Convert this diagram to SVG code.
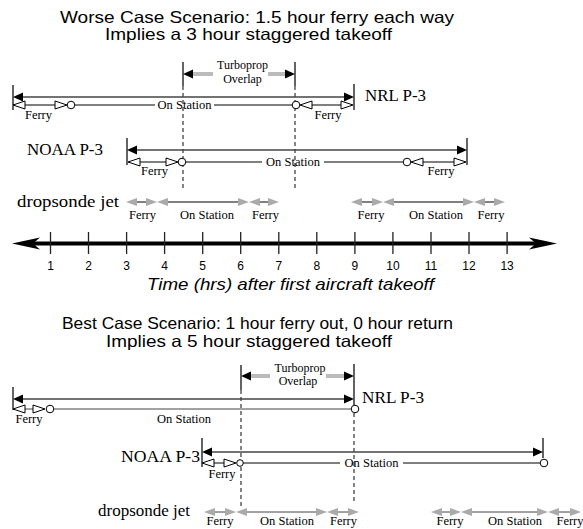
<svg xmlns="http://www.w3.org/2000/svg" xmlns:xlink="http://www.w3.org/1999/xlink" width="583" height="529" viewBox="0 0 583 529">
<style>
.title{font-family:"Liberation Sans",Arial,sans-serif;font-size:16.5px;fill:#000}
.axt{font-family:"Liberation Sans",Arial,sans-serif;font-size:17px;font-style:italic;fill:#000}
.tick{font-family:"Liberation Sans",Arial,sans-serif;font-size:12px;fill:#000;text-anchor:middle}
.big{font-family:"Liberation Serif","Times New Roman",serif;font-size:17px;fill:#000}
.sm{font-family:"Liberation Serif","Times New Roman",serif;font-size:12.5px;fill:#000;text-anchor:middle}
.tp{font-family:"Liberation Serif","Times New Roman",serif;font-size:12px;fill:#000;text-anchor:middle}
.top{stroke:#444;stroke-width:1.4;fill:none}
.bar{stroke:#222;stroke-width:1.4;fill:none}
.ln{stroke:#000;stroke-width:1;fill:none}
.lg{stroke:#444;stroke-width:1;fill:none}
.dash{stroke:#333;stroke-width:1.2;stroke-dasharray:4,3;fill:none}
.gbar{stroke:#bbb;stroke-width:4;fill:none}
</style>
<defs>
<polygon id="openL" points="0,0 12,-4 12,4" fill="#fff" stroke="#000" stroke-width="1"/>
<polygon id="openR" points="0,0 -12,-4 -12,4" fill="#fff" stroke="#000" stroke-width="1"/>
<polygon id="blkL" points="0,0 10,-4.5 10,4.5" fill="#000"/>
<polygon id="blkR" points="0,0 -10,-4.5 -10,4.5" fill="#000"/>
<polygon id="grayL" points="0,0 11,-4 11,4" fill="#aaa"/>
<polygon id="grayR" points="0,0 -11,-4 -11,4" fill="#aaa"/>
<circle id="circ" r="3.8" fill="#fff" stroke="#000" stroke-width="1"/>
</defs>

<g id="titles">
<text class="title" x="60" y="23" textLength="394" lengthAdjust="spacingAndGlyphs">Worse Case Scenario: 1.5 hour ferry each way</text>
<text class="title" x="105" y="40" textLength="287" lengthAdjust="spacingAndGlyphs">Implies a 3 hour staggered takeoff</text>
<text class="title" x="62" y="329" textLength="391" lengthAdjust="spacingAndGlyphs">Best Case Scenario: 1 hour ferry out, 0 hour return</text>
<text class="title" x="106" y="347" textLength="286" lengthAdjust="spacingAndGlyphs">Implies a 5 hour staggered takeoff</text>
</g>

<g id="axis">
<line x1="30" y1="243.5" x2="540" y2="243.5" stroke="#000" stroke-width="4"/>
<path d="M12,243.5 L40,237.5 L33,243.5 L40,249.5 Z" fill="#000"/>
<path d="M557,243.5 L529,237.5 L536,243.5 L529,249.5 Z" fill="#000"/>
<g stroke="#222" stroke-width="1.3">
<line x1="50.5" y1="232" x2="50.5" y2="254"/>
<line x1="88.5" y1="232" x2="88.5" y2="254"/>
<line x1="126.6" y1="232" x2="126.6" y2="254"/>
<line x1="164.6" y1="232" x2="164.6" y2="254"/>
<line x1="202.7" y1="232" x2="202.7" y2="254"/>
<line x1="240.7" y1="232" x2="240.7" y2="254"/>
<line x1="278.8" y1="232" x2="278.8" y2="254"/>
<line x1="316.8" y1="232" x2="316.8" y2="254"/>
<line x1="354.9" y1="232" x2="354.9" y2="254"/>
<line x1="392.9" y1="232" x2="392.9" y2="254"/>
<line x1="431" y1="232" x2="431" y2="254"/>
<line x1="469" y1="232" x2="469" y2="254"/>
<line x1="507.1" y1="232" x2="507.1" y2="254"/>
</g>
<text class="tick" x="50.5" y="270">1</text>
<text class="tick" x="88.5" y="270">2</text>
<text class="tick" x="126.6" y="270">3</text>
<text class="tick" x="164.6" y="270">4</text>
<text class="tick" x="202.7" y="270">5</text>
<text class="tick" x="240.7" y="270">6</text>
<text class="tick" x="278.8" y="270">7</text>
<text class="tick" x="316.8" y="270">8</text>
<text class="tick" x="354.9" y="270">9</text>
<text class="tick" x="392.9" y="270">10</text>
<text class="tick" x="431" y="270">11</text>
<text class="tick" x="469" y="270">12</text>
<text class="tick" x="507.1" y="270">13</text>
<text class="axt" x="147" y="290" textLength="287" lengthAdjust="spacingAndGlyphs">Time (hrs) after first aircraft takeoff</text>
</g>

<!-- Worse case -->
<g id="w-overlap">
<line class="bar" x1="183" y1="62" x2="183" y2="86"/>
<line class="bar" x1="295" y1="62" x2="295" y2="86"/>
<line class="gbar" x1="192" y1="74" x2="213" y2="74"/>
<line class="gbar" x1="268" y1="74" x2="286" y2="74"/>
<use href="#blkL" x="183" y="74"/>
<use href="#blkR" x="295" y="74"/>
<text class="tp" x="242.5" y="69">Turboprop</text>
<text class="tp" x="242.5" y="83">Overlap</text>
</g>

<g id="connectors">
<line class="dash" x1="183" y1="86" x2="183" y2="190"/>
<line class="dash" x1="295" y1="86" x2="295" y2="190"/>
<line class="dash" x1="241" y1="390" x2="241" y2="508"/>
<line class="dash" x1="354" y1="413" x2="354" y2="504"/>
</g>

<g id="w-nrl">
<line class="bar" x1="13" y1="85" x2="13" y2="110"/>
<line class="bar" x1="354" y1="84" x2="354" y2="110"/>
<line class="top" x1="20" y1="97" x2="347" y2="97"/>
<use href="#blkL" x="13" y="97"/>
<use href="#blkR" x="354" y="97"/>
<line class="ln" x1="25" y1="105" x2="55" y2="105"/>
<line class="ln" x1="75" y1="105" x2="155" y2="105"/>
<line class="ln" x1="214" y1="105" x2="292" y2="105"/>
<line class="ln" x1="312" y1="105" x2="341" y2="105"/>
<use href="#openL" x="13" y="105"/>
<use href="#openR" x="67" y="105"/>
<use href="#circ" x="71" y="105"/>
<use href="#circ" x="296" y="105"/>
<use href="#openL" x="300" y="105"/>
<use href="#openR" x="353" y="105"/>
<text class="sm" x="184.5" y="109">On Station</text>
<text class="sm" x="38.5" y="119">Ferry</text>
<text class="sm" x="328" y="119">Ferry</text>
<text class="big" x="365" y="101" textLength="61" lengthAdjust="spacingAndGlyphs">NRL P-3</text>
</g>

<g id="w-noaa">
<line class="bar" x1="127" y1="138" x2="127" y2="165"/>
<line class="bar" x1="467" y1="138" x2="467" y2="165"/>
<line class="top" x1="134" y1="150" x2="460" y2="150"/>
<use href="#blkL" x="127" y="150"/>
<use href="#blkR" x="467" y="150"/>
<line class="ln" x1="139" y1="162" x2="166" y2="162"/>
<line class="ln" x1="186" y1="162" x2="262" y2="162"/>
<line class="ln" x1="324" y1="162" x2="403" y2="162"/>
<line class="ln" x1="423" y1="162" x2="455" y2="162"/>
<use href="#openL" x="128" y="162"/>
<use href="#openR" x="178" y="162"/>
<use href="#circ" x="182" y="162"/>
<use href="#circ" x="407" y="162"/>
<use href="#openL" x="411" y="162"/>
<use href="#openR" x="466" y="162"/>
<text class="sm" x="293" y="166">On Station</text>
<text class="sm" x="154.5" y="175">Ferry</text>
<text class="sm" x="441" y="175">Ferry</text>
<text class="big" x="27" y="155" textLength="76" lengthAdjust="spacingAndGlyphs">NOAA P-3</text>
</g>

<g id="w-jet">
<text class="big" x="17" y="207" textLength="102" lengthAdjust="spacingAndGlyphs">dropsonde jet</text>
<line class="ln" x1="137" y1="202" x2="147" y2="202"/>
<line class="ln" x1="167" y1="202" x2="239" y2="202"/>
<line class="ln" x1="259" y1="202" x2="268" y2="202"/>
<use href="#grayL" x="126" y="202"/>
<use href="#grayR" x="157" y="202"/>
<use href="#grayL" x="157" y="202"/>
<use href="#grayR" x="249" y="202"/>
<use href="#grayL" x="249" y="202"/>
<use href="#grayR" x="279" y="202"/>
<text class="sm" x="142.5" y="219">Ferry</text>
<text class="sm" x="207" y="219">On Station</text>
<text class="sm" x="265.5" y="219">Ferry</text>
<line class="ln" x1="362" y1="202" x2="373" y2="202"/>
<line class="ln" x1="393" y1="202" x2="464" y2="202"/>
<line class="ln" x1="484" y1="202" x2="494" y2="202"/>
<use href="#grayL" x="351" y="202"/>
<use href="#grayR" x="383" y="202"/>
<use href="#grayL" x="383" y="202"/>
<use href="#grayR" x="474" y="202"/>
<use href="#grayL" x="474" y="202"/>
<use href="#grayR" x="505" y="202"/>
<text class="sm" x="371" y="219">Ferry</text>
<text class="sm" x="436" y="219">On Station</text>
<text class="sm" x="491" y="219">Ferry</text>
</g>

<!-- Best case -->
<g id="b-overlap">
<line class="bar" x1="241" y1="365" x2="241" y2="390"/>
<line class="bar" x1="354" y1="364" x2="354" y2="405"/>
<line class="gbar" x1="250" y1="376" x2="270" y2="376"/>
<line class="gbar" x1="326" y1="376" x2="345" y2="376"/>
<use href="#blkL" x="241" y="376"/>
<use href="#blkR" x="354" y="376"/>
<text class="tp" x="300" y="372">Turboprop</text>
<text class="tp" x="298" y="385">Overlap</text>
</g>

<g id="b-nrl">
<line class="bar" x1="13" y1="387" x2="13" y2="410"/>
<line class="top" x1="20" y1="399" x2="347" y2="399"/>
<use href="#blkL" x="13" y="399"/>
<use href="#blkR" x="354" y="399"/>
<line class="lg" x1="25" y1="409" x2="33" y2="409"/>
<line class="lg" x1="54" y1="409" x2="351" y2="409"/>
<use href="#openL" x="13" y="409"/>
<use href="#openR" x="45" y="409"/>
<use href="#circ" x="50" y="409"/>
<use href="#circ" x="355" y="409"/>
<text class="sm" x="184" y="423">On Station</text>
<text class="sm" x="29" y="423">Ferry</text>
<text class="big" x="362" y="403" textLength="62" lengthAdjust="spacingAndGlyphs">NRL P-3</text>
</g>

<g id="b-noaa">
<line class="bar" x1="202" y1="438" x2="202" y2="467"/>
<line class="bar" x1="543" y1="438" x2="543" y2="458"/>
<line class="top" x1="209" y1="452" x2="536" y2="452"/>
<use href="#blkL" x="202" y="452"/>
<use href="#blkR" x="543" y="452"/>
<line class="ln" x1="214" y1="463" x2="224" y2="463"/>
<line class="ln" x1="243" y1="463" x2="340" y2="463"/>
<line class="ln" x1="403" y1="463" x2="540" y2="463"/>
<use href="#openL" x="202" y="463"/>
<use href="#openR" x="236" y="463"/>
<circle cx="240" cy="463" r="3.3" fill="#fff" stroke="#000" stroke-width="1"/>
<use href="#circ" x="544" y="463"/>
<text class="sm" x="371.5" y="467">On Station</text>
<text class="sm" x="222" y="478">Ferry</text>
<text class="big" x="121" y="462" textLength="79" lengthAdjust="spacingAndGlyphs">NOAA P-3</text>
</g>

<g id="b-jet">
<text class="big" x="98" y="516" textLength="92" lengthAdjust="spacingAndGlyphs">dropsonde jet</text>
<line class="lg" x1="215" y1="512" x2="226" y2="512"/>
<line class="lg" x1="246" y1="512" x2="317" y2="512"/>
<line class="lg" x1="337" y1="512" x2="348" y2="512"/>
<use href="#grayL" x="204" y="512"/>
<use href="#grayR" x="236" y="512"/>
<use href="#grayL" x="236" y="512"/>
<use href="#grayR" x="327" y="512"/>
<use href="#grayL" x="327" y="512"/>
<use href="#grayR" x="359" y="512"/>
<text class="sm" x="220" y="525">Ferry</text>
<text class="sm" x="287" y="525">On Station</text>
<text class="sm" x="343.5" y="525">Ferry</text>
<line class="lg" x1="442" y1="512" x2="451" y2="512"/>
<line class="lg" x1="471" y1="512" x2="538" y2="512"/>
<line class="lg" x1="558" y1="512" x2="570" y2="512"/>
<use href="#grayL" x="431" y="512"/>
<use href="#grayR" x="461" y="512"/>
<use href="#grayL" x="461" y="512"/>
<use href="#grayR" x="548" y="512"/>
<use href="#grayL" x="548" y="512"/>
<use href="#grayR" x="581" y="512"/>
<text class="sm" x="450" y="525">Ferry</text>
<text class="sm" x="515" y="525">On Station</text>
<text class="sm" x="570" y="525">Ferry</text>
</g>
</svg>
